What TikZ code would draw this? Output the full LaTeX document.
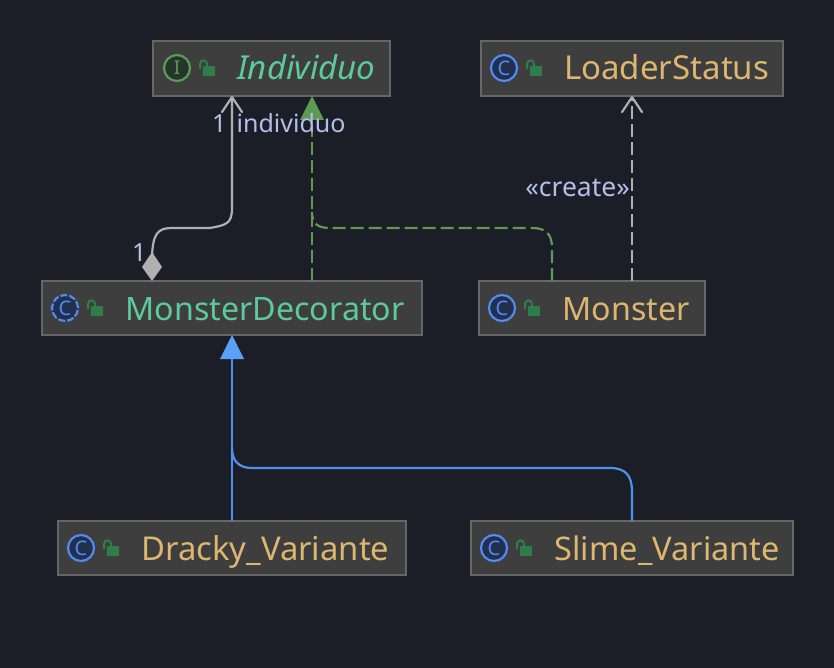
\documentclass[tikz,border=0pt]{standalone}
\usepackage{fontspec}
\setmainfont{Noto Sans}
\usetikzlibrary{arrows.meta}
\definecolor{bgc}{HTML}{1B1E27}
\definecolor{boxf}{HTML}{3E3E3E}
\definecolor{boxd}{HTML}{666666}
\definecolor{tealt}{HTML}{5CC9A0}
\definecolor{tant}{HTML}{DDB66F}
\definecolor{lblc}{HTML}{B4BEEA}
\definecolor{iblue}{HTML}{548AF0}
\definecolor{iblf}{HTML}{22304F}
\definecolor{igreen}{HTML}{5F9A55}
\definecolor{igrf}{HTML}{24362B}
\definecolor{lockc}{HTML}{2E7D4A}
\definecolor{greyl}{HTML}{B0B0B0}
\definecolor{bluel}{HTML}{4C93EE}
\definecolor{bluea}{HTML}{5AA0F5}
\tikzset{
  x=1pt,y=-1pt,
  classbox/.style={draw=boxd,fill=boxf,line width=1.4pt,inner sep=0,outer sep=0,anchor=north west},
  nametext/.style={inner sep=0,anchor=base west,font=\fontsize{32.2}{32}\selectfont},
  lbl/.style={inner sep=0,anchor=base west,text=lblc,font=\fontsize{25}{25}\selectfont},
  cicon/.style={circle,draw=iblue,fill=iblf,line width=2.2pt,minimum size=26pt,inner sep=0,text=iblue,font=\fontsize{20}{20}\selectfont},
  iicon/.style={circle,draw=igreen,fill=igrf,line width=2.2pt,minimum size=26pt,inner sep=0,text=igreen,font=\fontsize{19}{19}\selectfont},
  assoc/.style={draw=greyl,line width=2.2pt},
  realizes/.style={draw=igreen,line width=2.2pt,dash pattern=on 13pt off 5pt},
  extends/.style={draw=bluel,line width=2.2pt},
  createdep/.style={draw=greyl,line width=2.2pt,dash pattern=on 13pt off 5pt},
  openhead/.style={-{Straight Barb[length=15pt,width=20pt,line width=2.2pt,round]}},
}
\newcommand{\lockat}[2]{%
  \fill[lockc] (#1+4,#2) rectangle (#1+16,#2+10);
  \draw[lockc,line width=2pt] (#1+1,#2+3) -- (#1+1,#2-2) .. controls (#1+1,#2-7) and (#1+8,#2-7) .. (#1+8,#2-2) -- (#1+8,#2+1);
}
\begin{document}
\begin{tikzpicture}
\useasboundingbox (0,0) rectangle (834,668);
\fill[bgc] (0,0) rectangle (834,668);
% classes
\node[classbox,minimum width=237pt,minimum height=55pt] (individuo) at (153,41) {};
\node[classbox,minimum width=302pt,minimum height=55pt] (loader) at (481,41) {};
\node[classbox,minimum width=380pt,minimum height=54pt] (decorator) at (42,281) {};
\node[classbox,minimum width=226pt,minimum height=54pt] (monster) at (479,281) {};
\node[classbox,minimum width=348pt,minimum height=54pt] (dracky) at (58,521) {};
\node[classbox,minimum width=322pt,minimum height=54pt] (slime) at (471,521) {};
% icons
\node[iicon] (iconI) at (177,68) {I};
\node[cicon] (iconL) at (504,68) {C};
\node[cicon,dash pattern=on 7pt off 2pt] (iconD) at (65,308) {C};
\node[cicon] (iconM) at (502,308) {C};
\node[cicon] (iconR) at (81,548) {C};
\node[cicon] (iconS) at (494,548) {C};
\lockat{199}{66}
\lockat{526}{66}
\lockat{87}{306}
\lockat{524}{306}
\lockat{103}{546}
\lockat{516}{546}
% names
\node[nametext,text=tealt,font=\fontsize{33}{33}\selectfont\itshape] (nI) at (237,80) {Individuo};
\node[nametext,text=tant,font=\fontsize{33}{33}\selectfont] (nL) at (564,80) {LoaderStatus};
\node[nametext,text=tealt] (nD) at (125.5,320) {MonsterDecorator};
\node[nametext,text=tant] (nM) at (562.5,320) {Monster};
\node[nametext,text=tant,font=\fontsize{32.8}{33}\selectfont] (nR) at (141,560) {Dracky\_Variante};
\node[nametext,text=tant,font=\fontsize{32.5}{33}\selectfont] (nS) at (554.5,560) {Slime\_Variante};
% connectors
\draw[assoc,openhead] ([xshift=110pt,yshift=20pt]decorator.north west)
  .. controls (152,233) and (158,228) .. (172,228)
  -- (210,228) .. controls (226,225) and (232,224) .. (232,208) -- ([xshift=79pt]individuo.south west);
\path[fill=greyl] ([xshift=110pt]decorator.north west) -- ++(-10,-14) -- ++(10,-15) -- ++(10,15) -- cycle;
\draw[realizes] ([xshift=270pt]decorator.north west) -- ([xshift=159pt,yshift=-22pt]individuo.south west);
\draw[realizes] ([xshift=73pt]monster.north west) -- (552,248) .. controls (552,234) and (546,228) .. (532,228)
  -- (330,228) .. controls (318,228) and (312,224) .. (312,212);
\fill[igreen] ([xshift=159pt]individuo.south west) -- ++(-12,24) -- ++(24,0) -- cycle;
\draw[createdep,openhead] ([xshift=153pt]monster.north west) -- ([xshift=151pt]loader.south west);
\draw[extends] ([xshift=174pt]dracky.north west) -- ([xshift=190pt,yshift=-24pt]decorator.south west);
\draw[extends] ([xshift=161pt]slime.north west) -- (632,492) .. controls (632,476) and (626,468) .. (610,468)
  -- (252,468) .. controls (238,468) and (232,460) .. (232,448);
\fill[bluea] ([xshift=190pt]decorator.south west) -- ++(-12,24) -- ++(24,0) -- cycle;
% labels
\node[lbl] (mult1) at (212,133) {1};
\node[lbl] (role) at (236.5,133) {individuo};
\node[lbl] (mult2) at (132,261) {1};
\node[lbl,anchor=base east,font=\fontsize{26.5}{26}\selectfont] (create) at (630,197) {«create»};
\end{tikzpicture}
\end{document}
